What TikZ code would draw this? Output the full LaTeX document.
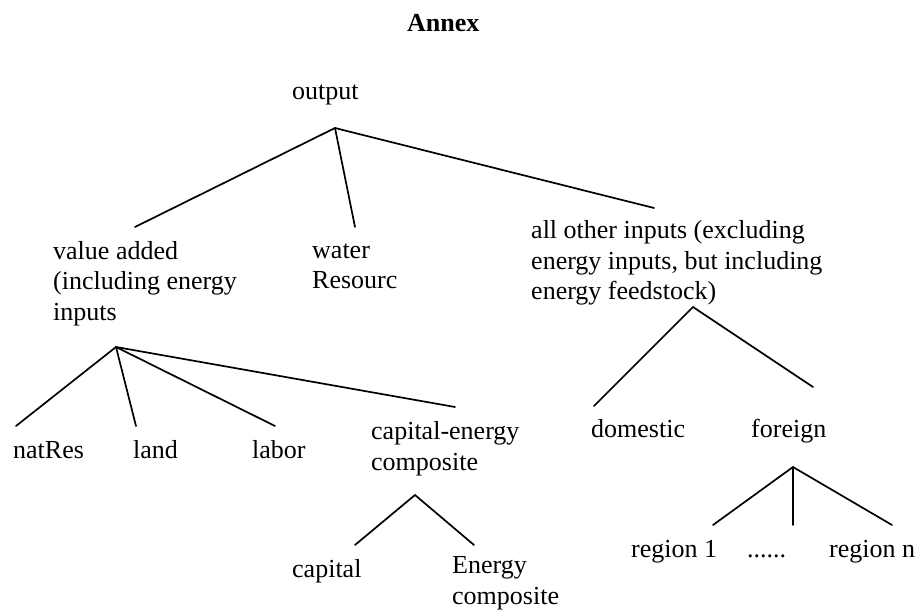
\documentclass[tikz,border=0pt]{standalone}
\usepackage{fontspec}
\setmainfont{Liberation Serif}

\tikzset{
  lbl/.style={anchor=base west, inner sep=0pt, align=left, font=\fontsize{26}{30.5}\selectfont},
  twig/.style={line width=1.7pt, line cap=round}
}

\begin{document}
\begin{tikzpicture}[x=1pt,y=-1pt]
\useasboundingbox (0,0) rectangle (918,612);

\node[lbl, font=\fontsize{26}{30.5}\selectfont\bfseries] (annex) at (407,32) {Annex};

\node[lbl] (output) at (292,100) {output};
\node[lbl] (valadd) at (53,320) {value added\\(including energy\\inputs};
\node[lbl] (water) at (312,289) {water\\Resourc};
\node[lbl] (other) at (531,300) {all other inputs (excluding\\energy inputs, but including\\energy feedstock)};

\node[lbl] (natres) at (13,458) {natRes};
\node[lbl] (land) at (133,458) {land};
\node[lbl] (labor) at (252,458) {labor};
\node[lbl] (kecomp) at (371,470) {capital-energy\\composite};

\node[lbl] (domestic) at (591,437) {domestic};
\node[lbl] (foreign) at (751,437) {foreign};

\node[lbl] (capital) at (292,577) {capital};
\node[lbl] (ecomp) at (452,604) {Energy\\composite};

\node[lbl] (reg1) at (631,557) {region 1};
\node[lbl] (regdots) at (747,557) {......};
\node[lbl] (regn) at (829,557) {region n};

% branching points
\coordinate (outJ) at (335,128);
\coordinate (vaJ) at (116,347);
\coordinate (otJ) at (693,307);
\coordinate (keJ) at (415,495);
\coordinate (frJ) at (793,467);

% branch ends
\coordinate (valaddT) at (135,227);
\coordinate (waterT) at (355,227);
\coordinate (otherT) at (654,208);
\coordinate (natresT) at (16,426);
\coordinate (landT) at (136,426);
\coordinate (laborT) at (275,426);
\coordinate (kecompT) at (455,407);
\coordinate (domesticT) at (594,406);
\coordinate (foreignT) at (813,387);
\coordinate (capitalT) at (355,545);
\coordinate (ecompT) at (474,545);
\coordinate (reg1T) at (713,525);
\coordinate (regdotsT) at (793,525);
\coordinate (regnT) at (892,525);

\draw[twig] (outJ) -- (valaddT);
\draw[twig] (outJ) -- (waterT);
\draw[twig] (outJ) -- (otherT);

\draw[twig] (vaJ) -- (natresT);
\draw[twig] (vaJ) -- (landT);
\draw[twig] (vaJ) -- (laborT);
\draw[twig] (vaJ) -- (kecompT);

\draw[twig] (otJ) -- (domesticT);
\draw[twig] (otJ) -- (foreignT);

\draw[twig] (keJ) -- (capitalT);
\draw[twig] (keJ) -- (ecompT);

\draw[twig] (frJ) -- (reg1T);
\draw[twig] (frJ) -- (regdotsT);
\draw[twig] (frJ) -- (regnT);
\end{tikzpicture}
\end{document}
